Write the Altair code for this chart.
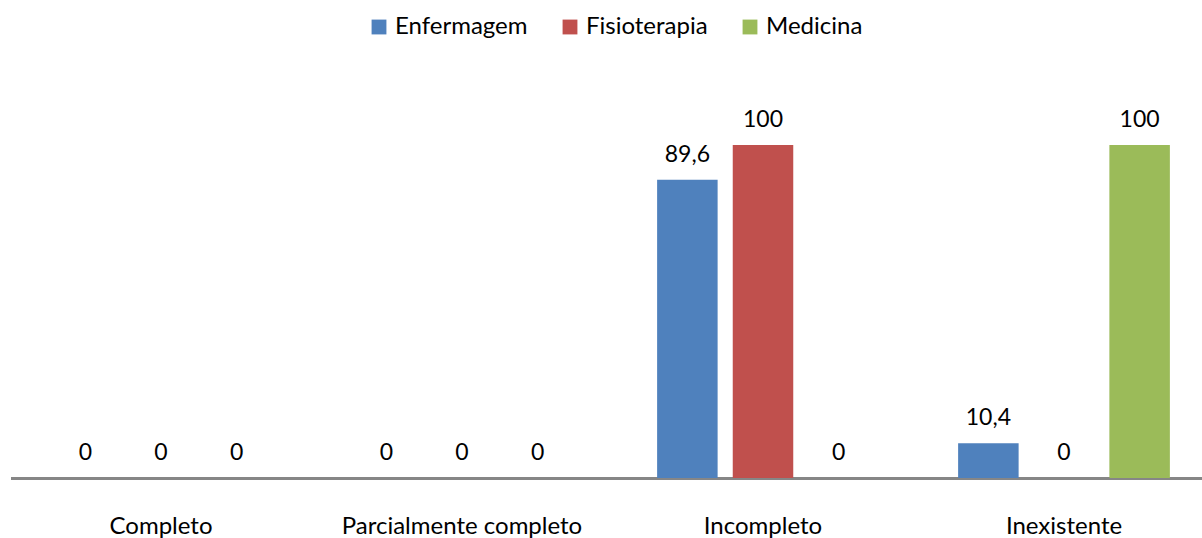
import altair as alt
import pandas as pd

categories = ["Completo", "Parcialmente completo", "Incompleto", "Inexistente"]
series = ["Enfermagem", "Fisioterapia", "Medicina"]
enfermagem = [0, 0, 89.6, 10.4]
fisioterapia = [0, 0, 100, 0]
medicina = [0, 0, 0, 100]
colors = ["#4F81BD", "#C0504D", "#9BBB59"]

rows = []
for s, vals in zip(series, [enfermagem, fisioterapia, medicina]):
    for c, v in zip(categories, vals):
        lab = (f"{v:g}").replace(".", ",")
        rows.append({"cat": c, "serie": s, "valor": v, "rotulo": lab})
df = pd.DataFrame(rows)

FONT = "Lato"

x = alt.X("cat:N", sort=categories,
          scale=alt.Scale(paddingInner=0, paddingOuter=0, range=[0.5, 1204.5]),
          axis=alt.Axis(title=None, labelAngle=0, ticks=False, labelFontSize=24,
                        labelFont=FONT, labelColor="#000", labelPadding=36, labelLimit=0,
                        domainColor="#868686", domainWidth=3))
xo = alt.XOffset("serie:N", sort=series,
                 scale=alt.Scale(paddingInner=0.2, paddingOuter=0.59))
y = alt.Y("valor:Q", scale=alt.Scale(domain=[0, 100]), axis=None)

base = alt.Chart(df)

bars = base.mark_bar().encode(
    x=x, xOffset=xo, y=y,
    color=alt.Color("serie:N", sort=series,
                    scale=alt.Scale(domain=series, range=colors),
                    legend=alt.Legend(title=None, orient="none", direction="horizontal",
                                      legendX=357, legendY=-130, symbolType="square",
                                      symbolSize=220, symbolStrokeWidth=0,
                                      labelFont=FONT, labelFontSize=24, labelColor="#000",
                                      columnPadding=30, labelOffset=4, labelLimit=0)),
)

labels = base.mark_text(
    baseline="middle", dy=-25, font=FONT, fontSize=23, color="#000"
).encode(x=x, xOffset=xo, y=y, text="rotulo:N")

chart = alt.layer(bars, labels).properties(
    width=1192, height=333,
    background="white",
    autosize=alt.AutoSizeParams(type="none"),
    padding={"left": 10, "top": 145, "right": 0, "bottom": 60},
).configure_view(strokeWidth=0, stroke="transparent")

chart.save("out.html", embed_options={"renderer": "svg", "actions": False})
